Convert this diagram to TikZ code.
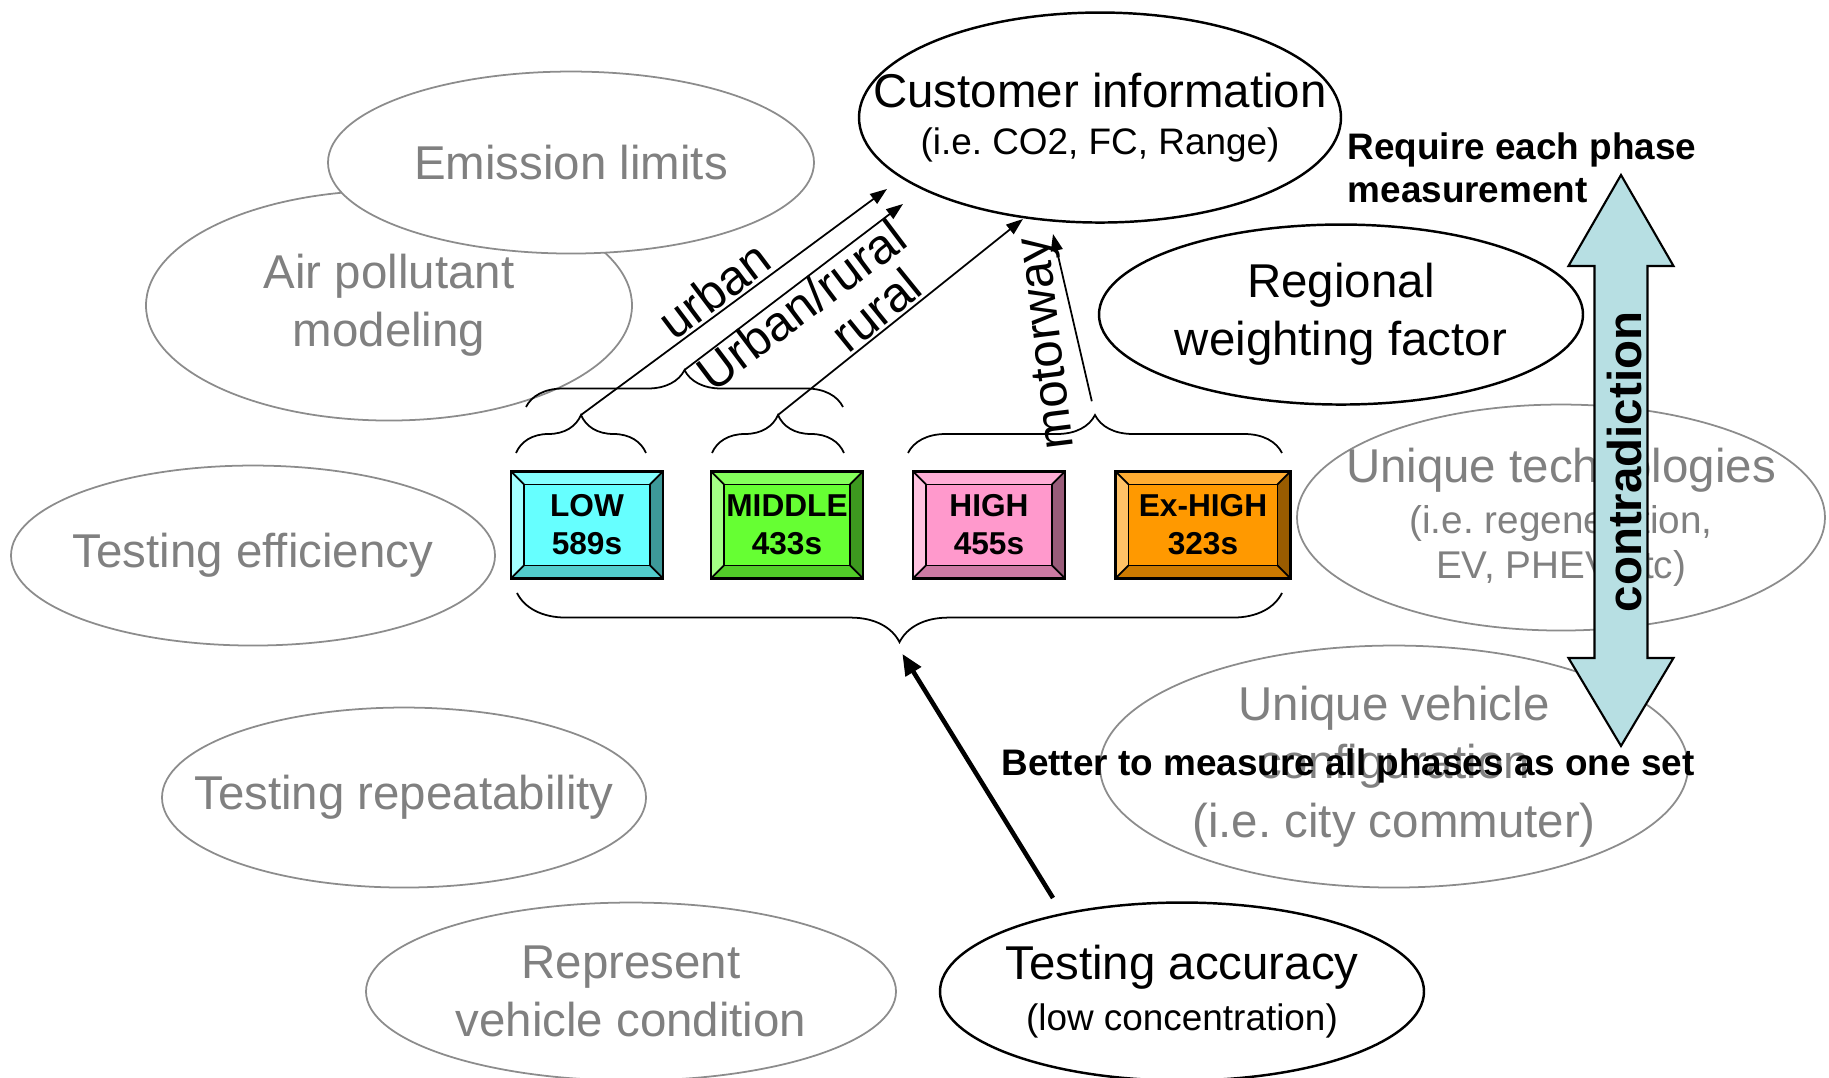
\documentclass[tikz,border=0pt]{standalone}
\usepackage{fontspec}
\setmainfont{Liberation Sans}
\usepackage{xcolor}
\usetikzlibrary{shapes.geometric,arrows.meta,decorations.pathreplacing}
\frenchspacing
\definecolor{gtext}{RGB}{128,128,128}
\definecolor{gline}{RGB}{140,140,140}
\definecolor{lowc}{RGB}{102,255,255}
\definecolor{midc}{RGB}{102,255,51}
\definecolor{highc}{RGB}{255,153,204}
\definecolor{exhc}{RGB}{255,153,0}
\definecolor{contrac}{RGB}{183,223,227}
\newcommand{\subfont}{\fontsize{10.5}{12.6}\selectfont}
\tikzset{
  bub/.style={ellipse, draw, line width=0.7pt, fill=white, inner xsep=-2cm, inner ysep=0pt, yshift=-1.3pt,
    align=center, font=\fontsize{13.5}{16.6}\selectfont},
  gbub/.style={bub, draw=gline, line width=0.5pt, text=gtext},
  brc/.style={decorate, decoration={brace, amplitude=#1}, line width=0.5pt},
  lbl/.style={font=\fontsize{14}{16}\selectfont, inner sep=0pt},
  phase/.style={draw, line width=0.8pt, fill=#1, minimum height=1.07cm, inner sep=0pt,
    align=center, font=\fontsize{9}{10.8}\selectfont\bfseries,
    path picture={
      \path (path picture bounding box.north west) coordinate (pnw)
            (path picture bounding box.north east) coordinate (pne)
            (path picture bounding box.south west) coordinate (psw)
            (path picture bounding box.south east) coordinate (pse);
      \fill[#1!80!white] (pnw) -- (pne) -- ([shift={(-1.3mm,-1.3mm)}]pne) -- ([shift={(1.3mm,-1.3mm)}]pnw) -- cycle;
      \fill[#1!60!white] (pnw) -- ([shift={(1.3mm,-1.3mm)}]pnw) -- ([shift={(1.3mm,1.3mm)}]psw) -- (psw) -- cycle;
      \fill[#1!60!black] (pne) -- (pse) -- ([shift={(-1.3mm,1.3mm)}]pse) -- ([shift={(-1.3mm,-1.3mm)}]pne) -- cycle;
      \fill[#1!80!black] (psw) -- (pse) -- ([shift={(-1.3mm,1.3mm)}]pse) -- ([shift={(1.3mm,1.3mm)}]psw) -- cycle;
      \draw[line width=0.5pt] ([shift={(1.3mm,-1.3mm)}]pnw) rectangle ([shift={(-1.3mm,1.3mm)}]pse);
      \draw[line width=0.5pt] (pnw) -- ++(1.3mm,-1.3mm) (pne) -- ++(-1.3mm,-1.3mm)
            (psw) -- ++(1.3mm,1.3mm) (pse) -- ++(-1.3mm,1.3mm);
    }},
}

\begin{document}
\begin{tikzpicture}[>={Triangle[length=4.8pt,width=3.4pt]}]
                \useasboundingbox (0,0) rectangle (18.29,10.78);
                \node [gbub, minimum width=4.86cm, minimum height=2.30cm] (air) at (3.89,7.77) {Air pollutant\\modeling};
                \node [gbub, minimum width=4.86cm, minimum height=1.82cm] (emis) at (5.71,9.20) {Emission limits};
                \node [gbub, minimum width=4.84cm, minimum height=1.80cm] (eff) at (2.53,5.27) {Testing efficiency};
                \node [gbub, minimum width=4.84cm, minimum height=1.80cm] (repeat) at (4.04,2.85) {Testing repeatability};
                \node [gbub, minimum width=5.30cm, minimum height=1.78cm] (cond) at (6.31,0.91) {Represent\\vehicle condition};
                \node [gbub, minimum width=5.28cm, minimum height=2.26cm] (tech) at (15.61,5.65)
                      {Unique technologies\\[-2.3pt]\fontsize{11}{13}\selectfont(i.e. regeneration,\\[-3.6pt]\fontsize{11}{13}\selectfont EV, PHEV etc)};
                \node [gbub, minimum width=5.88cm, minimum height=2.42cm] (config) at (13.94,3.16)
                      {Unique vehicle\\configuration\\(i.e. city commuter)};
                \node [bub, minimum width=4.82cm, minimum height=2.10cm] (cust) at (11.00,9.65)
                      {Customer information\\[-3pt]\subfont(i.e. CO2, FC, Range)};
                \node [bub, minimum width=4.84cm, minimum height=1.80cm] (region) at (13.41,7.68) {Regional\\weighting factor};
                \node [bub, minimum width=4.84cm, minimum height=1.78cm] (acc) at (11.82,0.91)
                      {Testing accuracy\\[-2pt]\subfont(low concentration)};
                \node [phase=lowc, minimum width=1.52cm] (low) at (5.87,5.53) {LOW\\589s};
                \node [phase=midc, minimum width=1.52cm] (middle) at (7.87,5.53) {MIDDLE\\433s};
                \node [phase=highc, minimum width=1.52cm] (high) at (9.89,5.53) {HIGH\\455s};
                \node [phase=exhc, minimum width=1.75cm] (exhigh) at (12.03,5.53) {Ex-HIGH\\323s};
                \draw [brc=10.8pt] (5.16,6.25) -- (6.46,6.25);
                \draw [brc=10.8pt] (7.12,6.25) -- (8.44,6.25);
                \draw [brc=10.8pt] (9.08,6.25) -- (12.82,6.25);
                \draw [brc=10.5pt] (5.26,6.71) -- (8.43,6.71);
                \draw [brc=14pt] (12.82,4.85) -- (5.17,4.85);
                \coordinate (lowtip) at (5.81,6.63);
                \coordinate (midtip) at (7.78,6.63);
                \coordinate (hitip) at (10.95,6.63);
                \coordinate (pairtip) at (6.845,7.08);
                \coordinate (bottip) at (8.95,4.36);
                \coordinate (urbanend) at (8.87,8.89);
                \coordinate (urend) at (9.03,8.74);
                \coordinate (ruralend) at (10.23,8.59);
                \coordinate (motorend) at (10.53,8.44);
                \coordinate (acctail) at (10.53,1.80);
                \draw [->, line width=0.5pt] (lowtip) -- (urbanend);
                \draw [->, line width=0.5pt] (pairtip) -- (urend);
                \draw [->, line width=0.5pt] (midtip) -- (ruralend);
                \draw [->, line width=0.5pt, shorten <=4pt] (hitip) -- (motorend);
                \draw [-{Triangle[length=6pt,width=5pt]}, line width=1.3pt, shorten >=4pt] (acctail) -- (bottip);
                \node [lbl, rotate=37] (urbanlbl) at (7.14,7.88) {urban};
                \node [lbl, rotate=37] (urlbl) at (8.01,7.73) {Urban/rural};
                \node [lbl, rotate=39] (rurallbl) at (8.76,7.68) {rural};
                \node [lbl, rotate=97] (motorlbl) at (10.50,7.35) {motorway};
                \filldraw [fill=contrac, line width=0.6pt] (16.21,9.03) -- (16.735,8.12) -- (16.475,8.12) -- (16.475,4.20)
                      -- (16.735,4.20) -- (16.21,3.32) -- (15.685,4.20) -- (15.945,4.20) -- (15.945,8.12) -- (15.685,8.12) -- cycle;
                \node [rotate=90, inner sep=0pt, font=\fontsize{13.5}{16}\selectfont\bfseries] (contra) at (16.25,6.16) {contradiction};
                \node [anchor=west, align=left, inner sep=0pt, font=\fontsize{10.5}{12.2}\selectfont\bfseries] (req) at (13.47,9.10)
                      {Require each phase\\measurement};
                \node [inner sep=0pt, font=\fontsize{10.5}{12.6}\selectfont\bfseries] (better) at (13.48,3.12)
                      {Better to measure all phases as one set};
            \end{tikzpicture}
\end{document}
